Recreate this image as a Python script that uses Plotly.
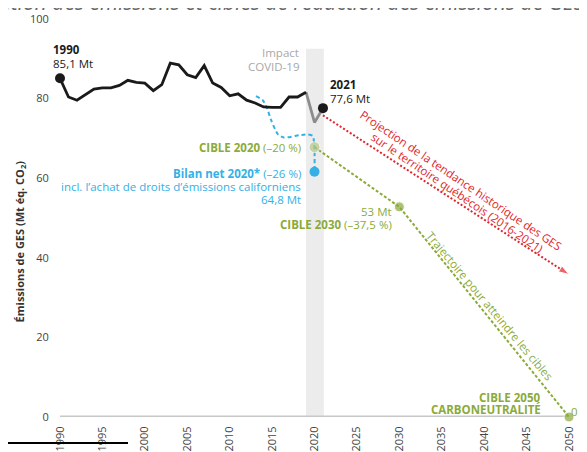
import plotly.graph_objects as go

# ---------------- data ----------------
years_hist = list(range(1990, 2020))
emis_hist = [85.1, 80.4, 79.6, 81.0, 82.4, 82.7, 82.7, 83.3, 84.6, 84.1,
             83.9, 82.0, 83.5, 88.9, 88.5, 86.0, 85.3, 88.3, 83.9, 82.8,
             80.7, 81.2, 79.6, 78.9, 77.9, 77.8, 77.8, 80.4, 80.4, 81.6]
years_covid = [2019, 2020, 2021]
emis_covid = [81.6, 74.0, 77.6]

net_years = [2013.1, 2013.9, 2014.4, 2014.9, 2015.7, 2016.4, 2018.2, 2019.2, 2019.8, 2020.0, 2020.0]
net_vals = [80.6, 79.6, 77.6, 74.5, 71.0, 70.2, 70.8, 71.0, 70.6, 67.3, 61.6]

target_years = [2020, 2030, 2050]
target_vals = [67.8, 52.8, 0.0]

proj_years = [2021, 2050]
proj_vals = [75.8, 35.8]

x_ticks = list(range(1990, 2051, 5))
y_ticks = [0, 20, 40, 60, 80, 100]

X0, X1 = 1990, 2050
Y0, Y1 = 0, 100

BLACK = "#1a1a1a"
GREEN = "#8aab3a"
LIGHTGREEN = "#b7c98a"
BLUE = "#35b0e6"
RED = "#e0252b"
GREY = "#8c8c8c"
FONT = "Open Sans"
FS = 11.5

fig = go.Figure()

# covid band
fig.add_shape(type="rect", x0=2019, x1=2021.1, y0=0, y1=92.5, xref="x", yref="y",
              fillcolor="#ececec", line_width=0, layer="below")
# baseline
fig.add_shape(type="line", x0=1989.5, x1=2050, y0=0, y1=0, xref="x", yref="y",
              line=dict(color="#c8c8c8", width=3), layer="below")

# net balance (blue dashed)
fig.add_trace(go.Scatter(x=net_years, y=net_vals, mode="lines",
                         line=dict(color=BLUE, width=2, dash="4px,3px", shape="spline", smoothing=0.6),
                         hoverinfo="skip", cliponaxis=False))
fig.add_trace(go.Scatter(x=[net_years[-1]], y=[net_vals[-1]], mode="markers",
                         marker=dict(color=BLUE, size=10), cliponaxis=False))

# targets (green dotted)
fig.add_trace(go.Scatter(x=target_years, y=target_vals, mode="lines",
                         line=dict(color=GREEN, width=2, dash="3px,2px"), cliponaxis=False))
fig.add_trace(go.Scatter(x=target_years, y=target_vals, mode="markers",
                         marker=dict(color=[LIGHTGREEN, GREEN, GREEN], size=[11, 10, 10]),
                         cliponaxis=False))

# projection (red dotted arrow)
fig.add_trace(go.Scatter(x=proj_years, y=proj_vals, mode="lines+markers",
                         line=dict(color=RED, width=2, dash="2px,2px"),
                         marker=dict(color=RED, size=[0, 11], symbol="arrow", angleref="previous"),
                         cliponaxis=False))

# historical
fig.add_trace(go.Scatter(x=years_covid, y=emis_covid, mode="lines",
                         line=dict(color=GREY, width=2.8), cliponaxis=False))
fig.add_trace(go.Scatter(x=years_hist, y=emis_hist, mode="lines",
                         line=dict(color=BLACK, width=2.8), cliponaxis=False))
fig.add_trace(go.Scatter(x=[years_hist[0], years_covid[-1]], y=[emis_hist[0], emis_covid[-1]],
                         mode="markers", marker=dict(color=BLACK, size=10), cliponaxis=False))


def px(x):
    return (x - X0) / (X1 - X0)


def py(y):
    return (y - Y0) / (Y1 - Y0)


ann = []


def A(x, y, text, color, xanchor="left", size=FS, angle=0):
    ann.append(dict(x=px(x), y=py(y), xref="paper", yref="paper", text=text,
                    showarrow=False, xanchor=xanchor, yanchor="middle",
                    align=xanchor if xanchor != "center" else "center",
                    textangle=angle, font=dict(family=FONT, size=size, color=color)))


A(1988.94, 92.3, "<b>1990</b>", BLACK)
A(1988.94, 88.9, "85,1 Mt", BLACK)
A(2018.41, 91.5, "Impact", "#a8a8a8", xanchor="right")
A(2018.41, 88.0, "COVID-19", "#a8a8a8", xanchor="right")
A(2021.6, 83.6, "<b>2021</b>", BLACK)
A(2021.6, 80.1, "77,6 Mt", BLACK)
A(2018.65, 67.8, "<b>CIBLE 2020</b> (\u201320 %)", GREEN, xanchor="right")
A(2018.65, 61.3, "<b>Bilan net 2020*</b> (\u201326 %)", BLUE, xanchor="right")
A(2018.65, 58.0, "incl. l\u2019achat de droits d\u2019\u00e9missions californiens", BLUE, xanchor="right")
A(2018.65, 54.7, "64,8 Mt", BLUE, xanchor="right")
A(2029.37, 51.7, "53 Mt", GREEN, xanchor="right")
A(2029.37, 48.4, "<b>CIBLE 2030</b> (\u201337,5 %)", GREEN, xanchor="right")
A(2046.94, 5.0, "<b>CIBLE 2050</b>", GREEN, xanchor="right")
A(2046.94, 2.0, "<b>CARBONEUTRALIT\u00c9</b>", GREEN, xanchor="right")
A(2050.05, 1.5, "0 Mt", GREEN)
A(2037.3, 59.4, "Projection de la tendance historique des GES", RED, xanchor="center", angle=34)
A(2036.8, 56.4, "sur le territoire qu\u00e9b\u00e9cois (2016-2021)", RED, xanchor="center", angle=34)
A(2040.6, 27.9, "Trajectoire pour atteindre les cibles", GREEN, xanchor="center", angle=50)

# axis title
ann.append(dict(x=-0.0795, y=0.44, xref="paper", yref="paper", showarrow=False, textangle=-90,
                xanchor="center", yanchor="middle",
                text="<b>\u00c9missions de GES (Mt \u00e9q. CO<sub>2</sub>)</b>",
                font=dict(family=FONT, size=11, color="#333333")))
# cropped title
ann.append(dict(x=-0.198, y=1.0427, xref="paper", yref="paper", showarrow=False,
                xanchor="left", yanchor="middle",
                text="<i>\u00c9volution des \u00e9missions et cibles de r\u00e9duction des \u00e9missions de GES</i>",
                font=dict(family=FONT, size=21, color="#666666")))

fig.update_layout(
    width=587, height=452,
    margin=dict(l=52, r=26, t=11, b=43),
    paper_bgcolor="white", plot_bgcolor="white",
    showlegend=False,
    annotations=ann,
    font=dict(family=FONT),
    shapes=list(fig.layout.shapes) + [dict(type="line", xref="paper", yref="paper",
                                           x0=-0.116, x1=0.1336, y0=-0.0653, y1=-0.0653,
                                           line=dict(color="black", width=2))],
)
fig.update_xaxes(range=[X0, X1], tickvals=x_ticks, ticktext=[str(v) for v in x_ticks],
                 tickangle=-90, showgrid=False, zeroline=False, showline=False, automargin=False,
                 tickfont=dict(family=FONT, size=11, color="#444444"),
                 ticks="outside", ticklen=4, tickcolor="rgba(0,0,0,0)")
fig.update_yaxes(range=[Y0, Y1], tickvals=y_ticks, showgrid=False, zeroline=False, showline=False,
                 automargin=False,
                 tickfont=dict(family=FONT, size=11, color="#444444"),
                 ticks="outside", ticklen=8, tickcolor="rgba(0,0,0,0)")

fig.write_html("out.html")
